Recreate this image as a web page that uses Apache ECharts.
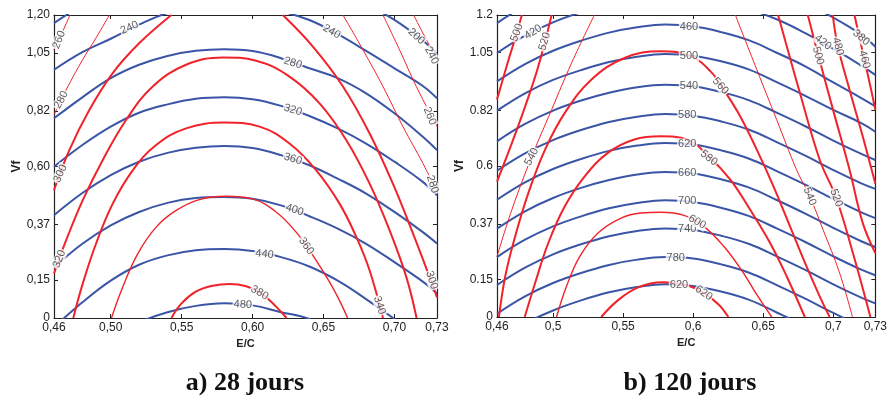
<!DOCTYPE html>
<html>
<head>
<meta charset="utf-8">
<script src="https://cdn.jsdelivr.net/npm/echarts@6/dist/echarts.min.js"></script>
<style>
  html, body { margin: 0; padding: 0; background: #fff; }
  #main { width: 890px; height: 401px; }
</style>
</head>
<body>
<div id="main"></div>
<script>
// axes ticks (both panels share the same scale)
var ecTicks = [0.46, 0.5, 0.55, 0.6, 0.65, 0.7, 0.73];
var vfTicks = [0, 0.15, 0.37, 0.6, 0.82, 1.05, 1.2];
var ecTextA = ['0,46', '0,50', '0,55', '0,60', '0,65', '0,70', '0,73'];
var vfTextA = ['0', '0,15', '0,37', '0,60', '0,82', '1,05', '1,20'];
var ecTextB = ['0,46', '0,5', '0,55', '0,6', '0,65', '0,7', '0,73'];
var vfTextB = ['0', '0.15', '0.37', '0.6', '0.82', '1.05', '1.2'];

// E/C positions where the blue iso-lines were read
var ecGrid = [0.46, 0.48, 0.50, 0.52, 0.54, 0.56, 0.58, 0.60, 0.62, 0.64, 0.66, 0.68, 0.70, 0.72, 0.73];

// a) 28 jours - blue iso-lines, Vf at each ecGrid point
var a_b200 = [1.168, 1.238, 1.291, 1.347, 1.393, 1.417, 1.425, 1.417, 1.401, 1.380, 1.306, 1.241, 1.181, 1.099, 1.045];
var a_b240 = [0.983, 1.053, 1.106, 1.162, 1.208, 1.232, 1.240, 1.232, 1.214, 1.180, 1.124, 1.058, 0.989, 0.919, 0.870];
var a_b280 = [0.791, 0.874, 0.950, 1.003, 1.038, 1.058, 1.064, 1.057, 1.029, 0.989, 0.950, 0.890, 0.811, 0.718, 0.665];
var a_b320 = [0.599, 0.685, 0.758, 0.813, 0.846, 0.868, 0.874, 0.866, 0.840, 0.800, 0.751, 0.691, 0.619, 0.539, 0.486];
var a_b360 = [0.407, 0.495, 0.566, 0.619, 0.654, 0.674, 0.681, 0.673, 0.645, 0.605, 0.552, 0.493, 0.420, 0.340, 0.295];
var a_b400 = [0.201, 0.294, 0.367, 0.420, 0.456, 0.475, 0.479, 0.472, 0.446, 0.403, 0.354, 0.294, 0.221, 0.144, 0.097];
var a_b440 = [-0.037, 0.062, 0.148, 0.211, 0.248, 0.268, 0.273, 0.265, 0.241, 0.204, 0.148, 0.075, -0.004, -0.090, -0.126];
var a_b480 = [-0.236, -0.150, -0.077, -0.017, 0.023, 0.048, 0.058, 0.050, 0.023, -0.004, -0.064, -0.123, -0.192, -0.275, -0.328];

// a) 28 jours - red iso-lines, [E/C, Vf] (null = leaves the frame)
var a_r240 = [[0.7135, 1.2], [0.7213, 1.115], [0.73, 1.023]];
var a_r260 = [[0.46, 1.062], [0.4661, 1.135], [0.4713, 1.2], null,
  [0.6919, 1.2], [0.7036, 1.062], [0.7154, 0.917], [0.73, 0.758]];
var a_r280 = [[0.46, 0.804], [0.4685, 0.903], [0.4802, 1.023], [0.4896, 1.109], [0.4990, 1.2], null,
  [0.6637, 1.2], [0.6778, 1.062], [0.6919, 0.917], [0.7060, 0.758], [0.7201, 0.612], [0.73, 0.499]];
var a_r300 = [[0.46, 0.506], [0.4708, 0.665], [0.4849, 0.824], [0.5014, 0.970], [0.5202, 1.089], [0.5428, 1.2], null,
  [0.6213, 1.2], [0.6425, 1.075], [0.6637, 0.917], [0.6825, 0.731], [0.6989, 0.532], [0.7131, 0.334], [0.7248, 0.162], [0.73, 0.082]];
var a_r320 = [[0.46, 0.176], [0.4685, 0.307], [0.4802, 0.466], [0.4943, 0.625], [0.5108, 0.784], [0.5296, 0.917],
  [0.5531, 1.003], [0.5790, 1.032], [0.6025, 1.019], [0.6260, 0.956], [0.6472, 0.850], [0.6660, 0.705],
  [0.6825, 0.532], [0.6966, 0.347], [0.7084, 0.162], [0.7156, 0]];
var a_r340 = [[0.4736, 0], [0.4802, 0.135], [0.4896, 0.294], [0.5014, 0.453], [0.5155, 0.585], [0.5320, 0.685],
  [0.5531, 0.751], [0.5802, 0.774], [0.6049, 0.758], [0.6260, 0.691], [0.6449, 0.585], [0.6613, 0.453],
  [0.6731, 0.321], [0.6825, 0.188], [0.6919, 0]];
var a_r360 = [[0.5005, 0], [0.5084, 0.122], [0.5190, 0.254], [0.5320, 0.360], [0.5461, 0.426], [0.5625, 0.469],
  [0.5814, 0.482], [0.5997, 0.472], [0.6166, 0.420], [0.6307, 0.340], [0.6425, 0.248], [0.6543, 0.142],
  [0.6613, 0.069], [0.6670, 0]];
var a_r380 = [[0.5428, 0], [0.5496, 0.056], [0.5602, 0.105], [0.5719, 0.128], [0.5837, 0.135], [0.5955, 0.126],
  [0.6060, 0.098], [0.6166, 0.045], [0.6239, 0]];

// a) contour labels: [text, E/C, Vf, angle]
var a_blueTags = [['240', 0.5132, 1.150, 24], ['240', 0.6557, 1.134, -30], ['200', 0.7154, 1.115, -42],
  ['280', 0.6284, 1.010, -17], ['320', 0.6284, 0.824, -17], ['360', 0.6284, 0.630, -17],
  ['400', 0.6296, 0.428, -18], ['440', 0.6084, 0.253, -6], ['480', 0.5931, 0.053, -2]];
var a_redTags = [['260', 0.4636, 1.102, 68], ['280', 0.4651, 0.864, 62], ['300', 0.4645, 0.572, 65],
  ['320', 0.4638, 0.234, 68], ['360', 0.6378, 0.285, -55], ['380', 0.6049, 0.100, -30],
  ['340', 0.6895, 0.050, -72], ['300', 0.7262, 0.150, -72], ['280', 0.7268, 0.530, -72],
  ['260', 0.7248, 0.800, -68], ['240', 0.7262, 1.040, -62]];

// b) 120 jours - blue iso-lines
var b_b380 = [1.168, 1.237, 1.290, 1.330, 1.362, 1.383, 1.393, 1.387, 1.364, 1.331, 1.290, 1.245, 1.190, 1.122, 1.074];
var b_b420 = [1.049, 1.118, 1.171, 1.211, 1.242, 1.264, 1.274, 1.267, 1.250, 1.222, 1.182, 1.128, 1.066, 0.999, 0.962];
var b_b460 = [0.936, 1.005, 1.058, 1.098, 1.130, 1.151, 1.162, 1.155, 1.132, 1.099, 1.049, 0.996, 0.932, 0.870, 0.837];
var b_b500 = [0.820, 0.889, 0.942, 0.981, 1.013, 1.034, 1.045, 1.038, 1.016, 0.983, 0.932, 0.879, 0.823, 0.770, 0.736];
var b_b540 = [0.698, 0.767, 0.820, 0.860, 0.891, 0.913, 0.923, 0.917, 0.894, 0.861, 0.811, 0.758, 0.701, 0.648, 0.624];
var b_b580 = [0.581, 0.650, 0.703, 0.743, 0.775, 0.796, 0.807, 0.800, 0.777, 0.744, 0.694, 0.641, 0.584, 0.531, 0.509];
var b_b620 = [0.466, 0.535, 0.588, 0.628, 0.660, 0.681, 0.691, 0.685, 0.662, 0.629, 0.579, 0.526, 0.469, 0.416, 0.393];
var b_b660 = [0.351, 0.420, 0.473, 0.513, 0.544, 0.566, 0.576, 0.570, 0.547, 0.514, 0.464, 0.411, 0.354, 0.301, 0.278];
var b_b700 = [0.238, 0.307, 0.360, 0.400, 0.432, 0.453, 0.464, 0.457, 0.434, 0.401, 0.351, 0.298, 0.241, 0.188, 0.166];
var b_b740 = [0.127, 0.196, 0.249, 0.289, 0.321, 0.342, 0.352, 0.346, 0.323, 0.290, 0.240, 0.187, 0.130, 0.077, 0.054];
var b_b780 = [0.013, 0.082, 0.135, 0.175, 0.207, 0.228, 0.238, 0.232, 0.209, 0.176, 0.126, 0.073, 0.016, -0.037, -0.060];
var b_b820 = [-0.095, -0.026, 0.026, 0.066, 0.098, 0.119, 0.130, 0.123, 0.101, 0.068, 0.017, -0.036, -0.093, -0.146, -0.168];

// b) 120 jours - red iso-lines
var b_r460 = [[0.7151, 1.2], [0.7222, 1.023], [0.7270, 0.903], [0.73, 0.824]];
var b_r480 = [[0.6996, 1.2], [0.7033, 1.075], [0.7116, 0.903], [0.7210, 0.718], [0.73, 0.530]];
var b_r500 = [[0.46, 0.864], [0.4683, 1.023], [0.4742, 1.130], [0.4777, 1.2], null,
  [0.6818, 1.2], [0.6892, 1.042], [0.6998, 0.824], [0.7116, 0.585], [0.7210, 0.374], [0.73, 0.254]];
var b_r520 = [[0.46, 0.538], [0.4706, 0.691], [0.4801, 0.837], [0.4895, 0.996], [0.4990, 1.2], null,
  [0.6606, 1.2], [0.6762, 0.890], [0.6903, 0.625], [0.7021, 0.473], [0.7140, 0.254], [0.7265, 0]];
var b_r540 = [[0.46, 0.240], [0.4706, 0.426], [0.4848, 0.637], [0.4990, 0.824], [0.5132, 1.009], [0.5295, 1.2], null,
  [0.6301, 1.2], [0.6454, 0.983], [0.6596, 0.784], [0.6738, 0.585], [0.6832, 0.479], [0.6927, 0.347], [0.7045, 0.175], [0.7137, 0]];
var b_r560 = [[0.4614, 0], [0.4659, 0.162], [0.4730, 0.321], [0.4824, 0.493], [0.4943, 0.665], [0.5084, 0.811],
  [0.5273, 0.943], [0.5510, 1.029], [0.5769, 1.056], [0.5982, 1.036], [0.6124, 0.976], [0.6218, 0.903],
  [0.6336, 0.797], [0.6454, 0.665], [0.6573, 0.519], [0.6691, 0.360], [0.6809, 0.201], [0.6903, 0.082], [0.6974, 0]];
var b_r580 = [[0.4798, 0], [0.4872, 0.135], [0.4966, 0.294], [0.5084, 0.440], [0.5226, 0.559], [0.5391, 0.652],
  [0.5580, 0.705], [0.5769, 0.718], [0.5958, 0.705], [0.6112, 0.638], [0.6265, 0.546], [0.6407, 0.426],
  [0.6549, 0.294], [0.6667, 0.162], [0.6797, 0]];
var b_r600 = [[0.5025, 0], [0.5096, 0.122], [0.5191, 0.241], [0.5321, 0.334], [0.5486, 0.393], [0.5628, 0.413],
  [0.5769, 0.416], [0.5935, 0.404], [0.6076, 0.360], [0.6218, 0.281], [0.6343, 0.188], [0.6454, 0.089], [0.6561, 0]];
var b_r620 = [[0.5344, 0], [0.5462, 0.066], [0.5604, 0.117], [0.5781, 0.138], [0.5947, 0.127], [0.6076, 0.095],
  [0.6183, 0.049], [0.6251, 0]];

var b_blueTags = [['460', 0.597, 1.152, 0], ['500', 0.597, 1.036, 0], ['540', 0.597, 0.918, 0],
  ['580', 0.5958, 0.801, 0], ['620', 0.5958, 0.688, 0], ['660', 0.5958, 0.572, 0],
  ['700', 0.5958, 0.460, 0], ['740', 0.5958, 0.348, 0], ['780', 0.5876, 0.234, 0],
  ['620', 0.5899, 0.128, 0], ['420', 0.6927, 1.092, -38], ['380', 0.7199, 1.110, -40],
  ['420', 0.4858, 1.132, 32]];
var b_redTags = [['500', 0.4742, 1.130, 70], ['520', 0.4940, 1.095, 74], ['540', 0.4848, 0.637, 62],
  ['560', 0.6195, 0.918, -48], ['580', 0.6112, 0.632, -38], ['600', 0.6029, 0.378, -30],
  ['620', 0.6076, 0.095, -35], ['500', 0.6892, 1.038, -74], ['480', 0.7033, 1.075, -74],
  ['460', 0.7222, 1.023, -74], ['540', 0.6832, 0.479, -68], ['520', 0.7021, 0.473, -70]];

var BLUE = '#3a55a6';
var RED = '#f0222a';
var FONT = '"Liberation Sans", Arial, sans-serif';

function pickText(ticks, texts) {
  return function (v) {
    for (var i = 0; i < ticks.length; i++) {
      if (Math.abs(ticks[i] - v) < 1e-6) return texts[i];
    }
    return '';
  };
}

function isoLine(ax, vals) {
  return {
    type: 'line', xAxisIndex: ax, yAxisIndex: ax, smooth: 0.4, symbol: 'none', silent: true,
    lineStyle: { color: BLUE, width: 2 }, z: 2,
    data: ecGrid.map(function (x, i) { return [x, vals[i]]; })
  };
}

function redLine(ax, pts, w) {
  var out = [], seg = [];
  pts.concat([null]).forEach(function (p) {
    if (p) { seg.push(p); return; }
    if (seg.length) {
      out.push({
        type: 'line', xAxisIndex: ax, yAxisIndex: ax, smooth: 0.4, symbol: 'none', silent: true,
        lineStyle: { color: RED, width: w }, z: 3, data: seg
      });
    }
    seg = [];
  });
  return out;
}

// contour values written on the lines, white box cuts the line like clabel
function tags(ax, list) {
  return {
    type: 'scatter', xAxisIndex: ax, yAxisIndex: ax, symbol: 'circle', symbolSize: 2, silent: true, z: 6,
    clip: false,
    itemStyle: { color: 'rgba(255,255,255,0)' },
    label: {
      show: true, position: 'inside', formatter: '{b}', fontSize: 11, fontFamily: FONT,
      color: '#333', backgroundColor: '#fff', padding: [0, 1]
    },
    data: list.map(function (t) { return { name: t[0], value: [t[1], t[2]], label: { rotate: t[3] } }; })
  };
}

function xAx(grid, pos, texts) {
  var a = {
    gridIndex: grid, type: 'value', position: pos, min: 0.46, max: 0.73,
    axisLine: { show: true, onZero: false, lineStyle: { color: '#222', width: 1.2 } },
    axisTick: { show: true, inside: true, length: 4, customValues: ecTicks, lineStyle: { color: '#222' } },
    axisLabel: { show: !!texts, customValues: ecTicks, formatter: texts ? pickText(ecTicks, texts) : '',
      fontSize: 12, fontFamily: FONT, color: '#222', margin: 4 },
    splitLine: { show: false }
  };
  if (texts) {
    a.name = 'E/C'; a.nameLocation = 'middle'; a.nameGap = 18;
    a.nameTextStyle = { fontSize: 11, fontWeight: 'bold', fontFamily: FONT, color: '#222' };
  }
  return a;
}

function yAx(grid, pos, texts) {
  var a = {
    gridIndex: grid, type: 'value', position: pos, min: 0, max: 1.2,
    axisLine: { show: true, onZero: false, lineStyle: { color: '#222', width: 1.2 } },
    axisTick: { show: true, inside: true, length: 4, customValues: vfTicks, lineStyle: { color: '#222' } },
    axisLabel: { show: !!texts, customValues: vfTicks, formatter: texts ? pickText(vfTicks, texts) : '',
      fontSize: 12, fontFamily: FONT, color: '#222', margin: 4 },
    splitLine: { show: false }
  };
  if (texts) {
    a.name = 'Vf'; a.nameLocation = 'middle'; a.nameGap = 31;
    a.nameTextStyle = { fontSize: 12, fontWeight: 'bold', fontFamily: FONT, color: '#222' };
  }
  return a;
}

var series = [];
[a_b200, a_b240, a_b280, a_b320, a_b360, a_b400, a_b440, a_b480].forEach(function (v) { series.push(isoLine(0, v)); });
[[a_r240, 1], [a_r260, 1], [a_r280, 1], [a_r300, 2], [a_r320, 2], [a_r340, 2], [a_r360, 1.4], [a_r380, 2]]
  .forEach(function (r) { series = series.concat(redLine(0, r[0], r[1])); });
series.push(tags(0, a_blueTags), tags(0, a_redTags));

[b_b380, b_b420, b_b460, b_b500, b_b540, b_b580, b_b620, b_b660, b_b700, b_b740, b_b780, b_b820]
  .forEach(function (v) { series.push(isoLine(2, v)); });
[[b_r460, 2], [b_r480, 2], [b_r500, 2], [b_r520, 2], [b_r540, 1], [b_r560, 2], [b_r580, 2], [b_r600, 1.4], [b_r620, 2]]
  .forEach(function (r) { series = series.concat(redLine(2, r[0], r[1])); });
series.push(tags(2, b_blueTags), tags(2, b_redTags));

var myChart = echarts.init(document.getElementById('main'));
var option = {
  animation: false,
  backgroundColor: '#fff',
  grid: [
    { left: 54, top: 15, width: 383, height: 303 },
    { left: 497, top: 15, width: 381, height: 302 }
  ],
  xAxis: [xAx(0, 'bottom', ecTextA), xAx(0, 'top', null), xAx(1, 'bottom', ecTextB), xAx(1, 'top', null)],
  yAxis: [yAx(0, 'left', vfTextA), yAx(0, 'right', null), yAx(1, 'left', vfTextB), yAx(1, 'right', null)],
  graphic: [
    { type: 'text', x: 245, y: 383, style: { text: 'a) 28 jours', font: 'bold 26px "Liberation Serif", serif',
      fill: '#111', align: 'center', verticalAlign: 'middle', textAlign: 'center', textVerticalAlign: 'middle' } },
    { type: 'text', x: 690, y: 383, style: { text: 'b) 120 jours', font: 'bold 26px "Liberation Serif", serif',
      fill: '#111', align: 'center', verticalAlign: 'middle', textAlign: 'center', textVerticalAlign: 'middle' } }
  ],
  series: series
};
option && myChart.setOption(option);
</script>
</body>
</html>
